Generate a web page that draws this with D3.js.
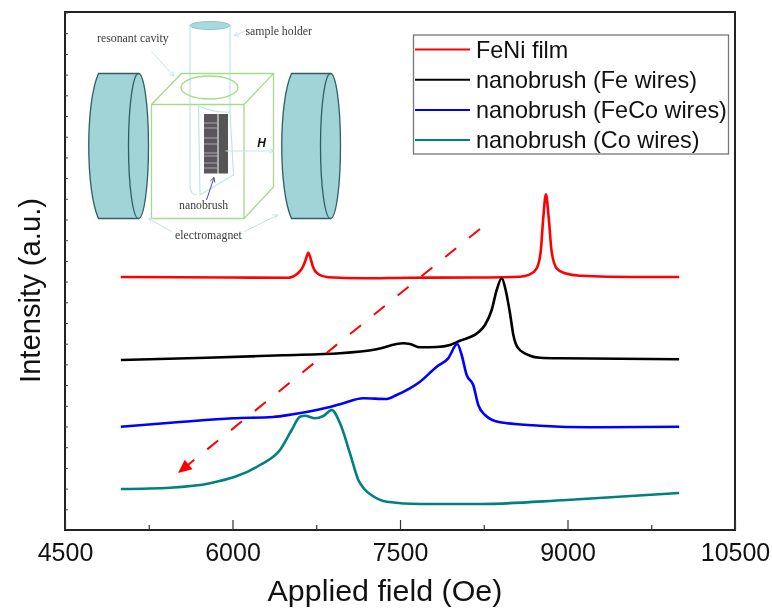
<!DOCTYPE html>
<html>
<head>
<meta charset="utf-8">
<style>
  html, body { margin: 0; padding: 0; background: #fff; }
  svg { display: block; filter: blur(0.35px); }
  text { font-family: "Liberation Sans", Arial, sans-serif; fill: #111; }
  .inset text { font-family: "Liberation Serif", "Times New Roman", serif; font-size: 11.8px; fill: #3c3c3c; }
</style>
<script src="https://cdn.jsdelivr.net/npm/d3@7"></script>
</head>
<body>
<div id="chart"></div>
<script>
// values, intensity is in arbitrary units
const feNiField = [5000, 6000, 6500, 6586, 6631, 6655, 6679, 6703, 6721, 6766, 6855, 7169, 7600, 8200, 8575, 8664, 8724, 8760, 8783, 8807, 8832, 8858, 8903, 8977, 9112, 9600, 10000];
const feNiIntensity = [253, 252.5, 252.3, 256.7, 263.3, 270, 277.3, 270, 263, 256, 252.7, 251.7, 252.3, 252.5, 253.3, 255.7, 261.7, 278.3, 312, 335.7, 312, 278.3, 261.7, 256.7, 254.3, 253, 253];

const feField = [5000, 5769, 6452, 6963, 7291, 7529, 7589, 7679, 7829, 7948, 8037, 8201, 8261, 8321, 8366, 8411, 8446, 8485, 8515, 8559, 8664, 8754, 8933, 10000];
const feIntensity = [170, 172.3, 174.7, 176.7, 180.7, 186.7, 186, 182.7, 183, 185, 189.3, 197.7, 205, 220, 240, 251.7, 240, 216.7, 195, 181.7, 174.3, 172.3, 171.7, 170.7];

const feCoField = [5000, 5557, 6004, 6363, 6542, 6754, 6963, 7171, 7381, 7470, 7679, 7829, 7932, 8013, 8052, 8097, 8156, 8201, 8261, 8395, 8754, 9201, 10000];
const feCoIntensity = [103.3, 108.3, 111.7, 113, 115.7, 120, 125.7, 131.7, 131, 135, 148.3, 163.3, 171.7, 186, 175, 155, 145, 125, 115, 107.7, 104.3, 102.7, 103.3];

const coField = [5000, 5440, 5798, 6246, 6425, 6530, 6604, 6649, 6739, 6813, 6888, 6963, 7052, 7127, 7180, 7250, 7381, 7679, 8216, 8993, 10000];
const coIntensity = [41, 42.3, 46.7, 65, 80, 100, 113.3, 114.3, 111.7, 114, 120, 106.7, 76.7, 50, 41, 34.5, 28.3, 26, 26, 30, 37];

const seriesNames = ['FeNi film', 'nanobrush (Fe wires)', 'nanobrush (FeCo wires)', 'nanobrush (Co wires)'];
const seriesColors = ['#ff0000', '#000000', '#0000ff', '#008080'];
const seriesFields = [feNiField, feField, feCoField, coField];
const seriesIntensities = [feNiIntensity, feIntensity, feCoIntensity, coIntensity];

const xMajorTicks = [4500, 6000, 7500, 9000, 10500];
const xMinorTicks = [5250, 6750, 8250, 9750];

// dashed arrow, field and intensity of both ends
const arrowField = [8216, 5512];
const arrowIntensity = [301, 57];

const svgWidth = 772;
const svgHeight = 609;
const margin = { top: 12, right: 37, bottom: 79, left: 65 };

const svg = d3.select('#chart')
  .append('svg')
  .attr('width', svgWidth)
  .attr('height', svgHeight);

const xScale = d3.scaleLinear()
  .domain([4500, 10500])
  .range([margin.left, svgWidth - margin.right]);
const yScale = d3.scaleLinear()
  .domain([0, 518])
  .range([svgHeight - margin.bottom, margin.top]);

// frame
svg.append('rect')
  .attr('x', margin.left)
  .attr('y', margin.top)
  .attr('width', svgWidth - margin.left - margin.right)
  .attr('height', svgHeight - margin.top - margin.bottom)
  .attr('fill', 'none')
  .attr('stroke', '#222')
  .attr('stroke-width', 2);

// x axis
const xAxis = svg.append('g')
  .attr('transform', `translate(0,${svgHeight - margin.bottom})`)
  .call(d3.axisBottom(xScale).tickValues(xMajorTicks).tickFormat(d3.format('d')).tickSize(-10).tickPadding(13));
xAxis.select('.domain').remove();
xAxis.selectAll('line').attr('stroke', '#333').attr('stroke-width', 1.2);
xAxis.selectAll('text').attr('font-size', 25).style('font-family', '"Liberation Sans", Arial, sans-serif').attr('fill', '#111');

const xMinor = svg.append('g')
  .attr('transform', `translate(0,${svgHeight - margin.bottom})`)
  .call(d3.axisBottom(xScale).tickValues(xMinorTicks).tickFormat('').tickSize(-5));
xMinor.select('.domain').remove();
xMinor.selectAll('line').attr('stroke', '#333').attr('stroke-width', 1.2);

// y axis has ticks only, no labels
const yAxis = svg.append('g')
  .attr('transform', `translate(${margin.left},0)`)
  .call(d3.axisLeft(yScale).tickValues(d3.range(20.7, 518, 20.7)).tickFormat('').tickSize(-3));
yAxis.select('.domain').remove();
yAxis.selectAll('line').attr('stroke', '#444').attr('stroke-width', 1);

svg.append('text')
  .attr('x', (margin.left + svgWidth - margin.right) / 2 - 15)
  .attr('y', 601)
  .attr('text-anchor', 'middle')
  .attr('font-size', 30.4)
  .text('Applied field (Oe)');

svg.append('text')
  .attr('transform', 'translate(40,290.5) rotate(-90)')
  .attr('text-anchor', 'middle')
  .attr('font-size', 29.2)
  .text('Intensity (a.u.)');

// curves
const line = d3.line()
  .x(d => xScale(d[0]))
  .y(d => yScale(d[1]))
  .curve(d3.curveMonotoneX);

seriesNames.forEach((name, i) => {
  svg.append('path')
    .datum(d3.zip(seriesFields[i], seriesIntensities[i]))
    .attr('d', line)
    .attr('fill', 'none')
    .attr('stroke', seriesColors[i])
    .attr('stroke-width', 2.6);
});

// legend
const legend = svg.append('g');
legend.append('rect')
  .attr('x', 413.5)
  .attr('y', 35)
  .attr('width', 315)
  .attr('height', 119)
  .attr('fill', '#fff')
  .attr('stroke', '#777')
  .attr('stroke-width', 1.3);

const legendRow = legend.selectAll('.row')
  .data(seriesNames)
  .enter()
  .append('g')
  .attr('class', 'row')
  .attr('transform', (d, i) => `translate(0,${49.5 + i * 30.2})`);
legendRow.append('line')
  .attr('x1', 415)
  .attr('x2', 470)
  .attr('stroke', (d, i) => seriesColors[i])
  .attr('stroke-width', 2);
legendRow.append('text')
  .attr('x', 476)
  .attr('y', 8)
  .attr('font-size', 23.4)
  .text(d => d);

// inset sketch of the measurement set-up
const inset = svg.append('g').attr('class', 'inset');

function magnet(left, right) {
  // left is the outermost bulge, right the centre of the front face
  inset.append('path')
    .attr('d', `M${left + 10},73.5 L${right},73.5 L${right},218.5 L${left + 10},218.5 C${left - 3},190 ${left - 3},102 ${left + 10},73.5 Z`)
    .attr('fill', '#a0d4d6')
    .attr('stroke', '#2f5f63')
    .attr('stroke-width', 1.3);
  inset.append('ellipse')
    .attr('cx', right)
    .attr('cy', 146)
    .attr('rx', 10)
    .attr('ry', 72.5)
    .attr('fill', '#a0d4d6')
    .attr('stroke', '#2f5f63')
    .attr('stroke-width', 1.3);
}
magnet(88.5, 138.5);
magnet(281.5, 330.5);

const green = '#a6d98c';
const paleBlue = '#bfe6ea';

function stroked(d, color, width) {
  return inset.append('path')
    .attr('d', d)
    .attr('fill', 'none')
    .attr('stroke', color)
    .attr('stroke-width', width);
}

// tube
stroked('M190,25 L190,187 Q191,195 197,195 M230,25 L230,112 M198.5,106 Q214,113 230,112 M198.5,106 L200,195 L233.5,175 L230,112', paleBlue, 1.2);
inset.append('ellipse')
  .attr('cx', 210).attr('cy', 25.5).attr('rx', 20).attr('ry', 4)
  .attr('fill', '#a8dadd').attr('stroke', '#8cc5ca').attr('stroke-width', 1);

// cavity
stroked('M151.5,104.5 L244,104.5 L244,218.5 L151.5,218.5 Z M151.5,104.5 L181.5,73.5 L273.5,73.5 L244,104.5 M273.5,73.5 L273.5,187 L244,218.5', green, 1.3);
inset.append('ellipse')
  .attr('cx', 209.5).attr('cy', 87.5).attr('rx', 28.5).attr('ry', 11.5)
  .attr('fill', 'none').attr('stroke', green).attr('stroke-width', 1.3);

// nanobrush sample
inset.append('rect').attr('x', 218.5).attr('y', 114).attr('width', 9.5).attr('height', 59.5).attr('fill', '#555');
inset.append('rect').attr('x', 204).attr('y', 114).attr('width', 13.5).attr('height', 59.5).attr('fill', '#5a5560');
[123, 128, 138, 144, 153, 156, 163, 168].forEach(y => {
  inset.append('line')
    .attr('x1', 204).attr('x2', 217.5).attr('y1', y).attr('y2', y)
    .attr('stroke', '#b5b2b8').attr('stroke-width', 0.9);
});

// pointer arrows, pale blue apart from the one for the sample
function pointer(x1, y1, x2, y2, color) {
  stroked(`M${x1},${y1} L${x2},${y2}`, color, 1);
  const a = Math.atan2(y2 - y1, x2 - x1);
  const s = 5;
  stroked(`M${x2 - s * Math.cos(a - 0.5)},${y2 - s * Math.sin(a - 0.5)} L${x2},${y2} L${x2 - s * Math.cos(a + 0.5)},${y2 - s * Math.sin(a + 0.5)}`, color, 1);
}
pointer(151.5, 51.5, 174, 76, paleBlue);
pointer(244.5, 31.5, 234, 35.5, paleBlue);
pointer(171.5, 231.5, 148.5, 218.5, paleBlue);
pointer(244.5, 231.5, 277.5, 215, paleBlue);
pointer(225.5, 151, 273.5, 151, paleBlue);
pointer(206.5, 200, 214, 177.5, '#4a4aa8');

const insetLabels = ['resonant cavity', 'sample holder', 'nanobrush', 'electromagnet'];
const insetLabelX = [97, 245.5, 179, 175];
const insetLabelY = [42, 35, 209, 239];
insetLabels.forEach((t, i) => {
  inset.append('text').attr('x', insetLabelX[i]).attr('y', insetLabelY[i]).text(t);
});
inset.append('text')
  .attr('x', 261.5)
  .attr('y', 147)
  .attr('text-anchor', 'middle')
  .style('font-family', '"Liberation Sans", Arial, sans-serif')
  .style('font-size', '12px')
  .style('font-weight', 'bold')
  .style('font-style', 'italic')
  .style('fill', '#111')
  .text('H');

// dashed arrow, with its head placed on the last point
const tipX = xScale(arrowField[1]);
const tipY = yScale(arrowIntensity[1]);
const startX = xScale(arrowField[0]);
const startY = yScale(arrowIntensity[0]);
const angle = Math.atan2(tipY - startY, tipX - startX);
svg.append('line')
  .attr('x1', startX)
  .attr('y1', startY)
  .attr('x2', tipX - 12 * Math.cos(angle))
  .attr('y2', tipY - 12 * Math.sin(angle))
  .attr('stroke', '#ff0000')
  .attr('stroke-width', 2)
  .attr('stroke-dasharray', '14,16.6');
const headLen = 15;
const headWide = 0.42;
svg.append('path')
  .attr('d', d3.line()([
    [tipX, tipY],
    [tipX - headLen * Math.cos(angle - headWide), tipY - headLen * Math.sin(angle - headWide)],
    [tipX - headLen * Math.cos(angle + headWide), tipY - headLen * Math.sin(angle + headWide)]
  ]) + 'Z')
  .attr('fill', '#ff0000');
</script>
</body>
</html>
